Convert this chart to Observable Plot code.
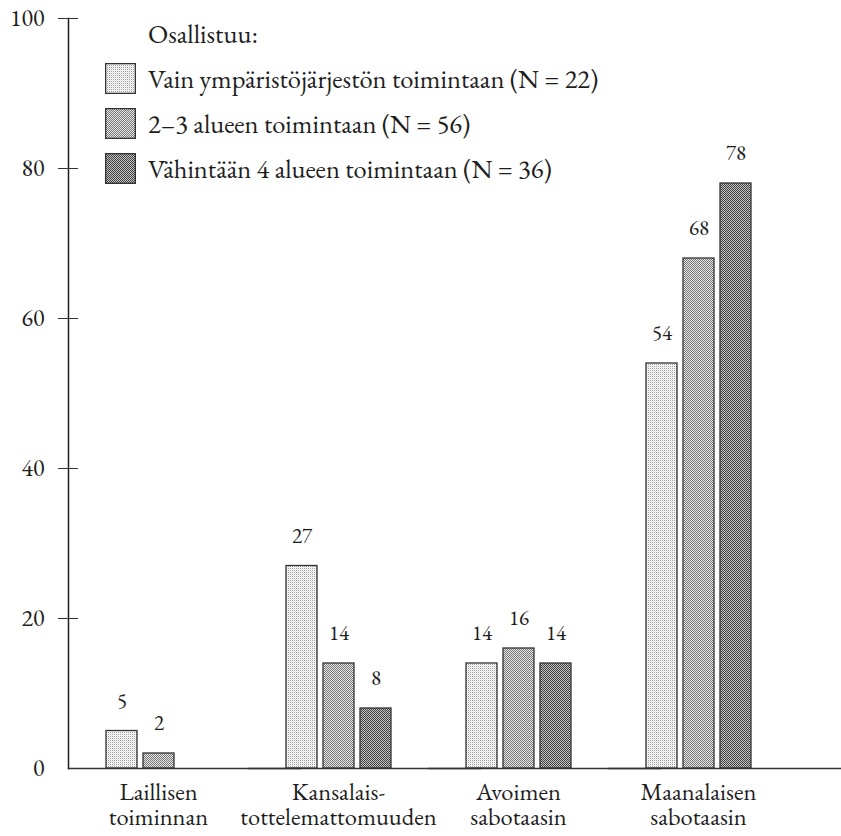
<!DOCTYPE html>
<html><head><meta charset="utf-8">
<script src="https://cdn.jsdelivr.net/npm/d3@7"></script>
<script src="https://cdn.jsdelivr.net/npm/@observablehq/plot@0.6"></script>
<style>
body{margin:0;background:#fff;}
#wrap{position:relative;width:841px;height:836px;font-family:"EB Garamond","Liberation Serif",serif;color:#1e1e1e;}
#legend{position:absolute;left:105px;top:11px;font-size:26.5px;}
#legend .row{display:flex;align-items:center;height:45px;white-space:nowrap;}
#legend .row svg{margin-right:12px;flex:none;}
#legend .title{padding-left:43px;}
</style></head><body><div id="wrap"></div>
<script>
const categories = ["Laillisen\ntoiminnan", "Kansalais-\ntottelemattomuuden", "Avoimen\nsabotaasin", "Maanalaisen\nsabotaasin"];
const series = ["Vain ympäristöjärjestön toimintaan (N = 22)", "2–3 alueen toimintaan (N = 56)", "Vähintään 4 alueen toimintaan (N = 36)"];
const valuesS1 = [5, 27, 14, 54];
const valuesS2 = [2, 14, 16, 68];
const valuesS3 = [null, 8, 14, 78];
const yTicks = [0, 20, 40, 60, 80, 100];
const legendTitle = "Osallistuu:";

const patternIds = ["patA", "patB", "patC"];
const patternDefs = [
  {base: "#ffffff", d1: "#9a9a9a", d2: "#e4e4e4"},
  {base: "#e8e8e8", d1: "#767676", d2: "#767676"},
  {base: "#c4c4c4", d1: "#404040", d2: "#404040"}
];
const patUrls = patternIds.map(id => `url(#${id})`);

const allValues = [valuesS1, valuesS2, valuesS3];
const data = [];
categories.forEach((c, i) => {
  series.forEach((s, j) => {
    const v = allValues[j][i];
    if (v != null) data.push({category: c, series: s, value: v});
  });
});

const chart = Plot.plot({
  width: 841,
  height: 836,
  marginTop: 18,
  marginBottom: 68,
  marginLeft: 68,
  marginRight: 53,
  style: {fontFamily: '"EB Garamond","Liberation Serif",serif', fontSize: "24px", color: "#1e1e1e", background: "#fff"},
  fx: {domain: categories, paddingInner: 0, paddingOuter: 0, align: 0},
  x: {domain: series, paddingInner: 6 / 37, paddingOuter: 1.0135, align: 0.5, axis: null},
  y: {domain: [0, 100], axis: null},
  color: {type: "ordinal", domain: series, range: patUrls},
  marks: [
    Plot.barY(data, {fx: "category", x: "series", y: "value", fill: "series", stroke: "#333", strokeWidth: 1.3}),
    Plot.text(data, {fx: "category", x: "series", y: "value", text: d => String(d.value), dy: -30, fontSize: 21, fill: "#1e1e1e"}),
    Plot.ruleY([0], {stroke: "#333", strokeWidth: 1.6, insetRight: -53}),
    Plot.frame({anchor: "left", facetAnchor: "left", stroke: "#1e1e1e", strokeWidth: 1.5}),
    Plot.axisY(yTicks.filter(t => t > 0), {tickSize: 20, dx: 10, tickFormat: () => "", stroke: "#333", label: null}),
    Plot.axisY(yTicks, {tickSize: 0, tickPadding: 24, fontSize: 24, label: null}),
    Plot.axisFx({anchor: "bottom", tickSize: 0, tickPadding: 13, fontSize: 24.5, lineHeight: 1.04, label: null})
  ]
});

const defs = d3.select(chart).insert("defs", ":first-child");
patternDefs.forEach((p, i) => {
  const pat = defs.append("pattern").attr("id", patternIds[i]).attr("patternUnits", "userSpaceOnUse")
    .attr("width", 2).attr("height", 2);
  pat.append("rect").attr("width", 2).attr("height", 2).attr("fill", p.base);
  pat.append("rect").attr("x", 0).attr("y", 0).attr("width", 1).attr("height", 1).attr("fill", p.d1);
  pat.append("rect").attr("x", 1).attr("y", 1).attr("width", 1).attr("height", 1).attr("fill", p.d2);
});

const wrap = document.getElementById("wrap");
wrap.appendChild(chart);

const legend = document.createElement("div");
legend.id = "legend";
const t = document.createElement("div");
t.className = "row title";
t.textContent = legendTitle;
legend.appendChild(t);
series.forEach((s, i) => {
  const row = document.createElement("div");
  row.className = "row";
  row.innerHTML = `<svg width="31" height="31"><rect x="0.65" y="0.65" width="29.7" height="29.7" fill="${patUrls[i]}" stroke="#333" stroke-width="1.3"/></svg><span>${s}</span>`;
  legend.appendChild(row);
});
wrap.appendChild(legend);
</script>
</body></html>
